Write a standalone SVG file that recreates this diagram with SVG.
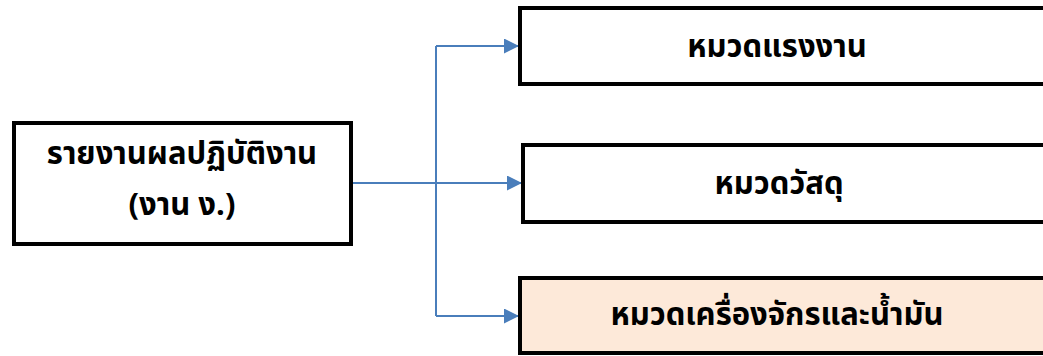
<svg xmlns="http://www.w3.org/2000/svg" width="1043" height="356" viewBox="0 0 1043 356">
<defs>
<style>
.box{fill:#ffffff;stroke:#000000;stroke-width:4}
.hl{fill:#FDE9D9}
.t{font-family:"Noto Sans Thai","Noto Sans","DejaVu Sans",sans-serif;font-weight:bold;font-size:31px;fill:#000;text-anchor:middle}
.c{fill:none;stroke:#4A7EBB;stroke-width:2}
</style>
<marker id="ah" viewBox="0 0 10 10" refX="10" refY="5" markerWidth="7.5" markerHeight="7.5" markerUnits="strokeWidth" orient="auto">
<path d="M0,0 L10,5 L0,10 z" fill="#4A7EBB"/>
</marker>
</defs>
<rect width="1043" height="356" fill="#ffffff"/>
<g id="connectors">
<path class="c" d="M351,183 H436" stroke-width="3"/>
<path class="c" d="M436,46 V316"/>
<path class="c" d="M436,46 H519" marker-end="url(#ah)"/>
<path class="c" d="M436,183 H522" marker-end="url(#ah)"/>
<path class="c" d="M436,316 H519" marker-end="url(#ah)"/>
</g>
<g id="n0">
<rect class="box" x="14" y="123" width="337" height="121"/>
<text class="t" x="182" y="164">รายงานผลปฏิบัติงาน</text>
<text class="t" x="182" y="215">(งาน ง.)</text>
</g>
<g id="n1">
<rect class="box" x="520" y="8" width="540" height="76"/>
<text class="t" x="777" y="57">หมวดแรงงาน</text>
</g>
<g id="n2">
<rect class="box" x="523" y="145" width="540" height="77"/>
<text class="t" x="779" y="194">หมวดวัสดุ</text>
</g>
<g id="n3">
<rect class="box hl" x="520" y="278" width="540" height="75"/>
<text class="t" x="777" y="325">หมวดเครื่องจักรและน้ำมัน</text>
</g>
</svg>
